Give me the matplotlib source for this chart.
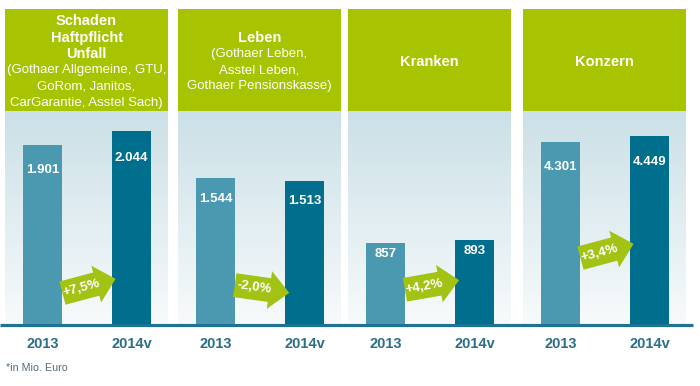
import numpy as np
import matplotlib
matplotlib.use("Agg")
import matplotlib.pyplot as plt
from matplotlib.patches import Rectangle, Polygon
from matplotlib.transforms import Affine2D

plt.rcParams["font.family"] = ["Liberation Sans", "DejaVu Sans"]

# data
titles = [["Schaden", "Haftpflicht", "Unfall"], ["Leben"], ["Kranken"], ["Konzern"]]
subtitles = [
    ["(Gothaer Allgemeine, GTU,", "GoRom, Janitos,", "CarGarantie, Asstel Sach)"],
    ["(Gothaer Leben,", "Asstel Leben,", "Gothaer Pensionskasse)"],
    [],
    [],
]
years = ["2013", "2014v"]
values_2013 = [1901, 1544, 857, 4301]
values_2014 = [2044, 1513, 893, 4449]
changes = ["+7,5%", "-2,0%", "+4,2%", "+3,4%"]

# layout (pixels, measured from top-left)
W, H = 700, 386
panel_left = [5, 178, 348, 523]
panel_w = 163
header_top, header_bot = 9, 111
bg_top, base_y = 112, 323.5
y_max = [2250, 2250, 2250, 5010]
arrow_y = [286, 289, 285, 251]
arrow_angle = [15, -8, 10, 15]

green = "#a8c400"
arrow_green = "#a2c214"
c2013 = "#4b98b1"
c2014 = "#006f8e"
teal_text = "#2a6f88"

fig = plt.figure(figsize=(W / 100, H / 100), dpi=100)
bg = fig.add_axes([0, 0, 1, 1], zorder=0)
bg.set_xlim(0, W)
bg.set_ylim(0, H)
bg.axis("off")

# vertical gradient for panel backgrounds
top_rgb = np.array([203, 224, 231]) / 255
bot_rgb = np.array([247, 250, 251]) / 255
t = np.linspace(0, 1, 256)[:, None]
grad = (top_rgb * (1 - t) + bot_rgb * t)[:, None, :]

line_h = 16.3
for i, x0 in enumerate(panel_left):
    bg.add_patch(Rectangle((x0, H - header_bot), panel_w, header_bot - header_top,
                           color=green, lw=0))
    bg.imshow(grad, extent=(x0, x0 + panel_w, H - base_y, H - bg_top),
              aspect="auto", interpolation="bilinear")
    lines = [(s, "bold", 10.5) for s in titles[i]] + [(s, "normal", 9.5) for s in subtitles[i]]
    n = len(lines)
    for k, (s, fw, fs) in enumerate(lines):
        yy = 62 + (k - (n - 1) / 2) * line_h
        bg.text(x0 + panel_w / 2, H - yy, s, color="white", fontweight=fw,
                fontsize=fs, ha="center", va="center")

bg.plot([0, 693], [H - 324.5, H - 324.5], color="#1d7391", lw=2.3, solid_capstyle="butt")
bg.set_xlim(0, W)
bg.set_ylim(0, H)

# bars
for i, x0 in enumerate(panel_left):
    ax = fig.add_axes([x0 / W, (H - base_y) / H, panel_w / W, (base_y - bg_top) / H], zorder=1)
    ax.set_facecolor("none")
    vals = [values_2013[i], values_2014[i]]
    ax.bar([0, 1], vals, width=0.44, color=[c2013, c2014])
    for j, v in enumerate(vals):
        lab = f"{v:,}".replace(",", ".")
        ax.text(j, v * 0.86, lab, color="white", fontweight="bold", fontsize=9.5,
                ha="center", va="center")
    ax.set_xlim(-0.42, 1.41)
    ax.set_ylim(0, y_max[i])
    ax.set_xticks([0, 1], years)
    ax.tick_params(axis="x", length=0, pad=10, labelsize=10.5, labelcolor=teal_text)
    for lbl in ax.get_xticklabels():
        lbl.set_fontweight("bold")
    ax.set_yticks([])
    for sp in ax.spines.values():
        sp.set_visible(False)

# change arrows
top = fig.add_axes([0, 0, 1, 1], zorder=2)
top.set_facecolor("none")
top.set_xlim(0, W)
top.set_ylim(0, H)
top.axis("off")
L, hl, bw, hw = 55, 20, 12, 19
shape = [(-L / 2, -bw), (L / 2 - hl, -bw), (L / 2 - hl, -hw), (L / 2, 0),
         (L / 2 - hl, hw), (L / 2 - hl, bw), (-L / 2, bw)]
for i, x0 in enumerate(panel_left):
    cx, cy = x0 + 84, H - arrow_y[i]
    ang = arrow_angle[i]
    tr = Affine2D().rotate_deg(ang).translate(cx, cy)
    top.add_patch(Polygon(shape, closed=True, color=arrow_green, lw=0,
                          transform=tr + top.transData))
    tx, ty = tr.transform((-hl / 2 + 2, 0))
    top.text(tx, ty, changes[i], color="white", fontweight="bold", fontsize=9.5,
             rotation=ang, rotation_mode="anchor", ha="center", va="center")

fig.text(6 / W, 1 - 368 / H, "*in Mio. Euro", fontsize=7.7, color="#4f6d7a",
         ha="left", va="center")

fig.savefig("out.png", dpi=100)
